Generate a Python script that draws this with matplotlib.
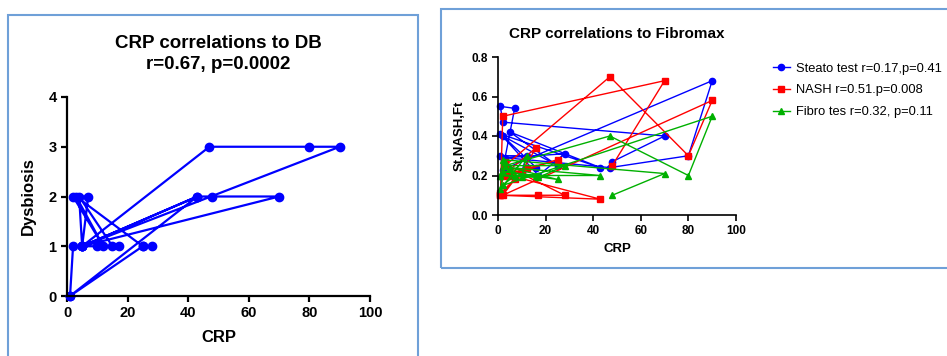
import matplotlib
matplotlib.use("Agg")
import matplotlib.pyplot as plt
from matplotlib.patches import Rectangle

plt.rcParams['font.family'] = ['Liberation Sans', 'DejaVu Sans']

# Datos: CRP frente a disbiosis (orden de los pacientes)
crp_db = [1, 2, 5, 47, 80, 90, 5, 43, 1, 25, 28, 25, 3, 12, 2, 7, 5, 70, 48, 43, 5, 4, 15, 17, 10, 5]
dysbiosis = [0, 1, 1, 3, 3, 3, 1, 2, 0, 1, 1, 1, 2, 1, 2, 2, 1, 2, 2, 2, 1, 2, 1, 1, 1, 1]

# Datos: CRP frente a Fibromax
crp_fm = [48, 70, 2, 1, 7, 2, 90, 80, 47, 3, 28, 17, 1, 43, 5, 25, 2, 16, 10, 12, 1, 3]
steato = [0.27, 0.40, 0.47, 0.55, 0.54, 0.23, 0.68, 0.30, 0.24, 0.29, 0.31, 0.20, 0.41, 0.24,
          0.42, 0.25, 0.40, 0.24, 0.22, 0.30, 0.30, 0.25]
nash = [0.25, 0.68, 0.50, 0.10, 0.18, 0.10, 0.58, 0.30, 0.70, 0.25, 0.10, 0.10, 0.10, 0.08,
        0.20, 0.28, 0.20, 0.34, 0.22, 0.24, 0.11, 0.27]
fibro = [0.10, 0.21, 0.28, 0.20, 0.20, 0.15, 0.50, 0.20, 0.40, 0.25, 0.25, 0.19, 0.20, 0.20,
         0.24, 0.18, 0.22, 0.20, 0.19, 0.30, 0.13, 0.27]

W, H = 947, 356
fig = plt.figure(figsize=(W / 100, H / 100), dpi=100)

def px_axes(x0, y_top, x1, y_bot):
    return fig.add_axes([x0 / W, (H - y_bot) / H, (x1 - x0) / W, (y_bot - y_top) / H])

# marcos azules de los paneles
fig.patches.append(Rectangle((8 / W, -0.1), (418 - 8) / W, (H - 15) / H + 0.1,
                             transform=fig.transFigure, fill=False, ec='#6fa0d8', lw=1.5))
fig.patches.append(Rectangle((441 / W, (H - 268) / H), 0.6, (268 - 9) / H,
                             transform=fig.transFigure, fill=False, ec='#6fa0d8', lw=1.5))

# Panel izquierdo
ax1 = px_axes(67, 97, 370, 296)
ax1.plot(crp_db, dysbiosis, color='#0000ff', lw=1.6, marker='o', ms=6, clip_on=False)
ax1.set_xlim(0, 100)
ax1.set_ylim(0, 4)
ax1.set_xticks([0, 20, 40, 60, 80, 100])
ax1.set_yticks([0, 1, 2, 3, 4])
ax1.set_xlabel('CRP', fontsize=12, fontweight='bold', labelpad=7)
ax1.set_ylabel('Dysbiosis', fontsize=12, fontweight='bold', labelpad=9)
ax1.set_title('CRP correlations to DB\nr=0.67, p=0.0002', fontsize=13.5, fontweight='bold',
              pad=20, linespacing=1.3)

# Panel derecho
ax2 = px_axes(498, 57, 736, 215)
ax2.plot(crp_fm, steato, color='#0000ff', lw=1.0, marker='o', ms=4.5, clip_on=False,
         label='Steato test r=0.17,p=0.41')
ax2.plot(crp_fm, nash, color='#ff0000', lw=1.0, marker='s', ms=4.5, clip_on=False,
         label='NASH r=0.51.p=0.008')
ax2.plot(crp_fm, fibro, color='#00b000', lw=1.0, marker='^', ms=4.5, clip_on=False,
         label='Fibro tes r=0.32, p=0.11')
ax2.set_xlim(0, 100)
ax2.set_ylim(0, 0.8)
ax2.set_xticks([0, 20, 40, 60, 80, 100])
ax2.set_yticks([0.0, 0.2, 0.4, 0.6, 0.8])
ax2.set_yticklabels(['0.0', '0.2', '0.4', '0.6', '0.8'])
ax2.set_xlabel('CRP', fontsize=9.5, fontweight='bold', labelpad=4)
ax2.set_ylabel('St,NASH,Ft', fontsize=9.5, fontweight='bold', labelpad=4)
ax2.set_title('CRP correlations to Fibromax', fontsize=11, fontweight='bold', pad=14)
ax2.legend(loc='upper left', bbox_to_anchor=(1.155, 0.965), frameon=False, fontsize=9.3,
           handlelength=1.3, handletextpad=0.5, borderaxespad=0, borderpad=0,
           labelspacing=0.75)

for ax, fs, lw in [(ax1, 10.5, 1.6), (ax2, 8.5, 1.2)]:
    ax.spines['top'].set_visible(False)
    ax.spines['right'].set_visible(False)
    ax.spines['left'].set_linewidth(lw)
    ax.spines['bottom'].set_linewidth(lw)
    ax.tick_params(width=lw, length=4, labelsize=fs)
    for lab in ax.get_xticklabels() + ax.get_yticklabels():
        lab.set_fontweight('bold')

fig.savefig('out.png', dpi=100)
